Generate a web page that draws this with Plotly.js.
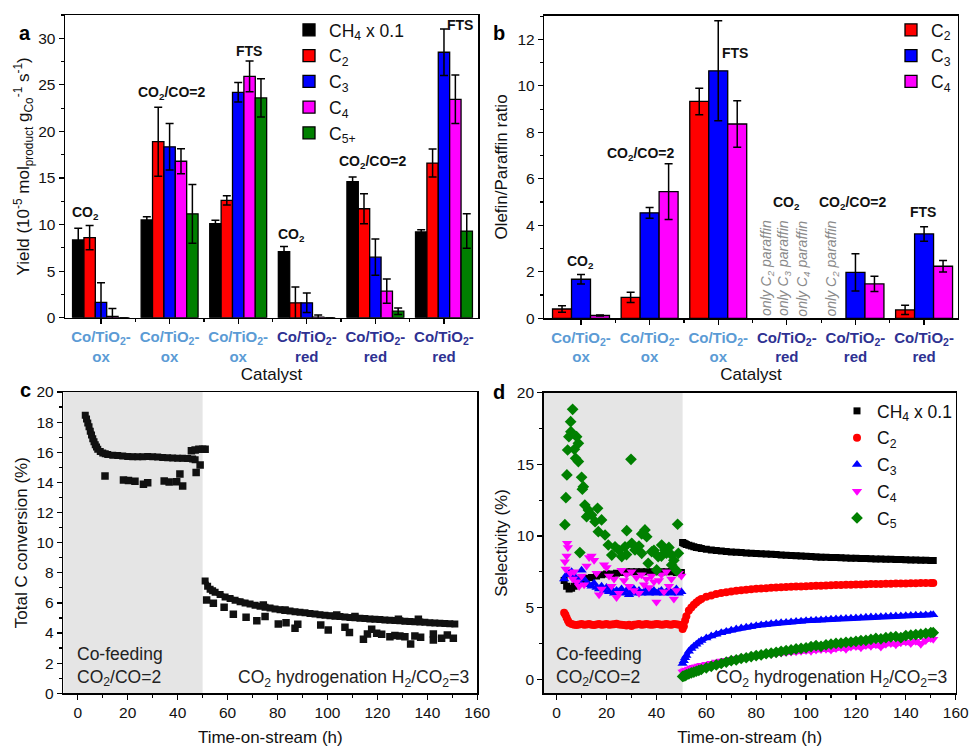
<!DOCTYPE html>
<html>
<head>
<meta charset="utf-8">
<script src="https://cdn.plot.ly/plotly-3.0.1.min.js"></script>
<style>html,body{margin:0;padding:0;background:#fff;}#chart{width:971px;height:750px;}</style>
</head>
<body>
<div id="chart"></div>
<script>
// ---------- Panel a / b : categories ----------
const catalysts = ['Co/TiO<sub>2</sub>-<br>ox','Co/TiO<sub>2</sub>-<br>ox','Co/TiO<sub>2</sub>-<br>ox','Co/TiO<sub>2</sub>-<br>red','Co/TiO<sub>2</sub>-<br>red','Co/TiO<sub>2</sub>-<br>red'];
const catalystType = ['ox','ox','ox','red','red','red'];
const catalystPos = [1,2,3,4,5,6];
const feedLabels = ['CO<sub>2</sub>','CO<sub>2</sub>/CO=2','FTS','CO<sub>2</sub>','CO<sub>2</sub>/CO=2','FTS'];

// ---------- Panel a : yield ----------
const yieldCH4 = [8.35, 10.5, 10.1, 7.1, 14.6, 9.2];
const yieldCH4Err = [1.25, 0.35, 0.35, 0.55, 0.5, 0.25];
const yieldC2 = [8.6, 18.9, 12.6, 1.6, 11.7, 16.6];
const yieldC2Err = [1.3, 3.7, 0.5, 1.7, 1.6, 1.5];
const yieldC3 = [1.65, 18.35, 24.2, 1.6, 6.5, 28.5];
const yieldC3Err = [2.1, 2.5, 1.05, 1.05, 1.95, 2.5];
const yieldC4 = [0.15, 16.8, 25.9, 0.05, 2.85, 23.45];
const yieldC4Err = [0.85, 1.35, 1.65, 0.25, 1.3, 2.6];
const yieldC5 = [0, 11.15, 23.6, 0, 0.7, 9.3];
const yieldC5Err = [0, 3.15, 2.05, 0, 0.35, 1.85];

// ---------- Panel b : olefin/paraffin ----------
const ratioC2 = [0.4, 0.9, 9.33, null, null, 0.36];
const ratioC2Err = [0.14, 0.22, 0.57, 0, 0, 0.2];
const ratioC3 = [1.68, 4.54, 10.65, null, 1.98, 3.63];
const ratioC3Err = [0.2, 0.23, 2.15, 0, 0.8, 0.31];
const ratioC4 = [0.12, 5.45, 8.36, null, 1.48, 2.24];
const ratioC4Err = [0.02, 1.2, 1.0, 0, 0.33, 0.25];
const paraffinNotes = ['only C<sub>2</sub> paraffin','only C<sub>3</sub> paraffin','only C<sub>4</sub> paraffin','only C<sub>2</sub> paraffin'];

// ---------- Panel c : total C conversion ----------
const cofeedEnd = 50;
const cTime1 = [3,3.5,4,4.5,5,5.5,6,6.5,7,7.5,8,9,10,11,12,14,16,18,20,22,24,26,28,30,32,34,36,38,40,42,44,46,47];
const cConv1 = [18.45,18.2,17.95,17.7,17.4,17.15,16.9,16.7,16.5,16.35,16.2,16.05,15.95,15.9,15.85,15.8,15.78,15.75,15.72,15.7,15.7,15.7,15.72,15.7,15.68,15.65,15.63,15.62,15.6,15.6,15.58,15.55,15.5];
const cTime2 = [51,52,53,54,55,57,59,61,63,65,67,69,71,73,75,77,79,81,83,85,87,89,91,93,95,97,99,101,103,105,107,109,111,113,115,117,119,121,123,125,127,129,131,133,135,137,139,141,143,145,147,149,151];
const cConv2 = [7.45,7.1,6.9,6.8,6.7,6.55,6.4,6.3,6.18,6.08,6.0,5.92,5.85,5.78,5.72,5.66,5.6,5.55,5.5,5.46,5.42,5.38,5.34,5.3,5.26,5.22,5.18,5.15,5.12,5.09,5.06,5.03,5.01,4.99,4.97,4.94,4.92,4.9,4.87,4.85,4.83,4.81,4.79,4.77,4.75,4.73,4.71,4.69,4.67,4.65,4.63,4.62,4.6];
const cTimeScatter = [10.9,18.3,20.3,22.9,26.3,28.0,34.6,36.6,39.6,40.9,42.0,47.4,49.0,45.5,47,48.5,50,51,
  51.6,54.3,58.6,62.3,67.4,71.7,75,80.3,83.4,87,88.1,97.3,100.3,107,108.8,114.4,116,117.7,119.7,121.7,125,127,129,131,133.3,135,137.3,142.4,142.4,145.7,148,150.4,
  74.3,83,103.7,111,128.4,136.4];
const cConvScatter = [14.42,14.16,14.12,14.07,13.87,13.98,14.09,14.03,14.05,14.56,13.76,14.65,15.15,16.1,16.15,16.2,16.2,16.2,
  6.19,5.97,5.71,5.24,5.04,4.82,5.09,4.6,4.69,4.31,4.58,4.54,4.2,4.38,4.03,3.58,3.94,4.25,3.98,3.92,3.76,3.83,3.81,3.76,3.27,3.81,3.72,3.94,3.54,3.65,3.87,3.65,
  5.86,5.53,5.2,5.09,4.91,4.91];

// ---------- Panel d : selectivity ----------
const dTimeCH4a = [3,4,5,6,7,8,9,10,12,14,16,18,20,22,24,26,28,30,32,34,36,38,40,42,44,46,48,50];
const dCH4a = [6.9,6.5,6.3,6.35,6.5,6.7,6.85,6.95,7.05,7.1,7.2,7.3,7.35,7.35,7.4,7.45,7.5,7.5,7.5,7.5,7.5,7.5,7.5,7.5,7.5,7.5,7.45,7.45];
const dTimeC2a = [3,3.5,4,4.5,5,6,7,8,9,10,11,12,13,14,15,16,17,18,19,20,21,22,23,24,25,26,27,28,29,30,31,32,33,34,35,36,37,38,39,40,41,42,43,44,45,46,47,48,49,50];
const dC2a = [4.65,4.5,4.3,4.1,3.95,3.85,3.8,3.78,3.82,3.85,3.8,3.82,3.85,3.8,3.78,3.82,3.85,3.8,3.83,3.86,3.8,3.82,3.84,3.88,3.82,3.8,3.78,3.75,3.8,3.72,3.8,3.83,3.85,3.8,3.82,3.85,3.83,3.8,3.82,3.86,3.84,3.8,3.83,3.85,3.82,3.8,3.86,3.84,3.8,3.78];
const dTimeC3a = [3,4,5,6,7,8,9,10,11,12,13,14,15,16,17,18,19,20,21,22,23,24,25,26,27,28,29,30,31,32,33,34,35,36,37,38,39,40,41,42,43,44,45,46,47,48,49,50];
const dC3a = [7.0,7.3,7.4,7.5,7.2,7.0,6.8,7.6,7.0,6.7,6.6,6.5,6.7,6.4,6.3,6.5,6.2,6.4,6.1,6.3,6.0,6.2,6.1,6.3,6.0,6.2,5.9,6.1,6.3,6.0,6.2,6.0,6.1,6.3,6.0,6.1,6.2,6.0,6.1,6.2,6.0,6.1,6.2,6.0,6.1,6.3,6.0,6.1];
const dTimeC4a = [3.3,3.6,4.0,4.2,4.5,5.5,6.5,7,8,9,10,11,12,13,14,15,16,17,18,19,20,21,22,23,24,25,26,27,28,29,30,31,32,33,34,35,36,37,38,39,40,41,42,43,44,45,46,47,48,49,50];
const dC4a = [8.2,7.7,8.6,9.5,9.2,7.4,7.0,7.5,6.8,6.5,7.2,6.6,7.9,8.5,8.6,8.3,7.4,5.9,6.3,8.0,7.8,7.2,6.5,7.0,5.7,6.0,7.6,6.9,7.3,6.5,7.5,6.2,7.1,6.0,7.3,6.6,7.0,6.4,7.2,6.8,5.4,6.9,7.3,6.1,7.5,6.5,7.0,5.6,6.2,7.4,7.2];
const dTimeC5a = [6.4,5.6,5.7,4.9,8.0,8.7,7.1,4.4,7.6,8.7,29.8,4.1,10.0,10.7,10.3,3.7,11.3,12.7,16.4,14.0,12.0,18.0,15.4,16.7,19.4,3.3,28.1,35.4,34.1,48.5,20.7,23.4,27.4,30.1,22.1,26.1,31.4,34.1,38.1,42.1,40.7,46.1,48.8,36.7,40.1,46.1,48.1,9.3,36.1,43.4,25,28,33,39,44,45,42,47];
const dC5a = [18.84,17.98,17.28,16.93,16.93,16.47,16.05,16.0,15.42,15.19,15.35,14.26,14.1,13.44,13.26,12.67,12.16,11.81,11.93,11.47,11.35,11.12,11.0,10.3,10.07,10.79,10.37,10.42,10.14,10.82,9.37,9.25,9.25,9.49,8.67,8.56,9.02,8.79,8.9,9.37,8.56,8.67,8.79,8.09,7.63,7.98,7.58,8.84,9.95,9.02,9.0,8.7,9.3,9.0,8.8,9.2,8.6,8.3];

const dTimeB = [50.5,51,51.5,52,53,54,55,56,57,58,60,62,64,66,68,70,72,74,76,78,80,82,84,86,88,90,92,94,96,98,100,102,104,106,108,110,112,114,116,118,120,122,124,126,128,130,132,134,136,138,140,142,144,146,148,150,151];
const dCH4b = [9.55,9.5,9.45,9.4,9.35,9.3,9.25,9.2,9.17,9.13,9.08,9.03,8.98,8.95,8.92,8.89,8.86,8.84,8.82,8.8,8.78,8.76,8.74,8.72,8.7,8.68,8.66,8.64,8.62,8.6,8.58,8.56,8.54,8.52,8.51,8.5,8.49,8.48,8.46,8.45,8.44,8.43,8.42,8.41,8.4,8.39,8.38,8.37,8.36,8.35,8.34,8.33,8.32,8.31,8.3,8.29,8.28];
const dC2b = [3.5,3.7,4.1,4.4,4.8,5.0,5.2,5.35,5.5,5.6,5.75,5.85,5.95,6.02,6.08,6.13,6.17,6.21,6.25,6.28,6.31,6.34,6.36,6.38,6.4,6.42,6.44,6.45,6.47,6.48,6.5,6.51,6.52,6.53,6.55,6.56,6.57,6.58,6.59,6.6,6.61,6.62,6.63,6.64,6.65,6.65,6.66,6.67,6.68,6.68,6.69,6.7,6.7,6.71,6.72,6.72,6.72];
const dC3b = [1.1,1.3,1.5,1.65,1.95,2.15,2.3,2.45,2.58,2.7,2.88,3.02,3.14,3.25,3.34,3.42,3.5,3.57,3.63,3.69,3.74,3.79,3.83,3.87,3.91,3.94,3.97,4.0,4.03,4.05,4.08,4.1,4.12,4.14,4.16,4.18,4.2,4.22,4.24,4.26,4.28,4.3,4.32,4.34,4.35,4.37,4.38,4.4,4.41,4.42,4.44,4.45,4.46,4.47,4.48,4.5,4.5];
const dC4b = [0.5,0.55,0.6,0.65,0.72,0.78,0.83,0.88,0.92,0.97,1.05,1.12,1.2,1.27,1.33,1.4,1.45,1.5,1.55,1.6,1.63,1.68,1.72,1.75,1.8,1.83,1.87,1.9,1.92,1.96,2.0,1.95,2.05,2.08,2.1,2.05,2.15,2.2,2.1,2.25,2.28,2.2,2.35,2.3,2.4,2.25,2.45,2.5,2.4,2.55,2.6,2.5,2.65,2.45,2.7,2.85,2.8];
const dC5b = [0.2,0.22,0.26,0.3,0.38,0.45,0.5,0.56,0.62,0.68,0.8,0.9,1.0,1.1,1.2,1.3,1.35,1.45,1.5,1.58,1.65,1.7,1.78,1.82,1.88,1.95,2.0,2.05,2.12,2.15,2.2,2.28,2.35,2.3,2.4,2.45,2.5,2.52,2.58,2.6,2.65,2.7,2.72,2.78,2.85,2.82,2.9,2.95,2.98,2.9,3.05,3.08,3.12,3.15,3.2,3.25,3.25];

// ---------- styles ----------
const FONT = 'Arial, "Liberation Sans", sans-serif';
const oxColor = '#5B9BD5', redColor = '#2E3192';
const colBlack = '#000000', colRed = '#FF0000', colBlue = '#0000FF', colMag = '#FF00FF', colGreen = '#008000';

const tickText = catalysts.map((c,i) => '<b><span style="color:' + (catalystType[i]==='ox'?oxColor:redColor) + '">' + c + '</span></b>');

function errBar(arr){ return {type:'data', array:arr, visible:true, color:'#000', thickness:1.5, width:4}; }
function barTrace(name, y, err, color, xa, ya, leg, grp){
  return {type:'bar', name:name, x:catalystPos, y:y, error_y:errBar(err), xaxis:xa, yaxis:ya, legend:leg, legendgroup:grp,
    marker:{color:color, line:{color:'#000', width:1.3}}};
}

const traces = [
  barTrace('CH<sub>4</sub> x 0.1', yieldCH4, yieldCH4Err, colBlack, 'x', 'y', 'legend', 'a1'),
  barTrace('C<sub>2</sub>', yieldC2, yieldC2Err, colRed, 'x', 'y', 'legend', 'a2'),
  barTrace('C<sub>3</sub>', yieldC3, yieldC3Err, colBlue, 'x', 'y', 'legend', 'a3'),
  barTrace('C<sub>4</sub>', yieldC4, yieldC4Err, colMag, 'x', 'y', 'legend', 'a4'),
  barTrace('C<sub>5+</sub>', yieldC5, yieldC5Err, colGreen, 'x', 'y', 'legend', 'a5'),
  barTrace('C<sub>2</sub>', ratioC2, ratioC2Err, colRed, 'x2', 'y2', 'legend2', 'b1'),
  barTrace('C<sub>3</sub>', ratioC3, ratioC3Err, colBlue, 'x2', 'y2', 'legend2', 'b2'),
  barTrace('C<sub>4</sub>', ratioC4, ratioC4Err, colMag, 'x2', 'y2', 'legend2', 'b3'),
  // panel c
  {type:'scatter', mode:'lines+markers', x:cTime1, y:cConv1, xaxis:'x3', yaxis:'y3', showlegend:false,
    line:{color:'#111', width:5}, marker:{symbol:'square', size:7, color:'#111'}},
  {type:'scatter', mode:'lines+markers', x:cTime2, y:cConv2, xaxis:'x3', yaxis:'y3', showlegend:false,
    line:{color:'#111', width:5}, marker:{symbol:'square', size:7, color:'#111'}},
  {type:'scatter', mode:'markers', x:cTimeScatter, y:cConvScatter, xaxis:'x3', yaxis:'y3', showlegend:false,
    marker:{symbol:'square', size:7.5, color:'#111'}},
];

const dSeries = [
  {name:'CH<sub>4</sub> x 0.1', t1:dTimeCH4a, v1:dCH4a, v2:dCH4b, color:'#000', symbol:'square', size:7},
  {name:'C<sub>2</sub>', t1:dTimeC2a, v1:dC2a, v2:dC2b, color:colRed, symbol:'circle', size:8},
  {name:'C<sub>3</sub>', t1:dTimeC3a, v1:dC3a, v2:dC3b, color:colBlue, symbol:'triangle-up', size:9},
  {name:'C<sub>4</sub>', t1:dTimeC4a, v1:dC4a, v2:dC4b, color:colMag, symbol:'triangle-down', size:9},
  {name:'C<sub>5</sub>', t1:dTimeC5a, v1:dC5a, v2:dC5b, color:colGreen, symbol:'diamond', size:9},
];
dSeries.forEach((s,i) => {
  traces.push({type:'scatter', mode:'markers', name:s.name, x:s.t1, y:s.v1, xaxis:'x4', yaxis:'y4', legend:'legend3', legendgroup:'d'+i,
    marker:{symbol:s.symbol, size:s.size, color:s.color}});
  traces.push({type:'scatter', mode:'lines+markers', name:s.name, x:dTimeB, y:s.v2, xaxis:'x4', yaxis:'y4', showlegend:false, legendgroup:'d'+i,
    line:{color:s.color, width:5}, marker:{symbol:s.symbol, size:s.size, color:s.color}});
});

const axisBase = {showline:true, linecolor:'#000', linewidth:1.5, mirror:true, ticks:'outside', ticklen:5, tickwidth:1.2,
  tickcolor:'#000', zeroline:false, showgrid:false, tickfont:{family:FONT, size:15.5, color:'#111'}};
function ax(extra){ return Object.assign({}, axisBase, extra); }
const titleFont = {family:FONT, size:17, color:'#111'};
const catTickFont = {family:FONT, size:15, color:'#111'};

const W = 971, H = 750;
function dx(a,b){ return [a/W, b/W]; }
function dy(top,bottom){ return [1-bottom/H, 1-top/H]; }

const annotations = [];
// panel letters
[['a',17,20],['b',499,20],['c',18,390],['d',499,392]].forEach(p => annotations.push({
  text:'<b>'+p[0]+'</b>', xref:'paper', yref:'paper', x:p[1]/W, y:1-p[2]/H, showarrow:false,
  font:{family:FONT, size:20, color:'#000'}}));
// panel a feed labels
const aLabelPos = [[0.77,11.25],[2.03,24.1],[3.16,28.6],[3.78,8.9],[4.96,16.7],[6.23,31.4]];
feedLabels.forEach((t,i) => annotations.push({text:'<b>'+t+'</b>', xref:'x', yref:'y', x:aLabelPos[i][0], y:aLabelPos[i][1],
  showarrow:false, font:{family:FONT, size:14, color:'#111'}}));
const bLabelPos = [[0.99,2.44],[1.88,7.07],[3.24,11.4],[4.0,4.95],[4.97,4.95],[5.99,4.56]];
feedLabels.forEach((t,i) => annotations.push({text:'<b>'+t+'</b>', xref:'x2', yref:'y2', x:bLabelPos[i][0], y:bLabelPos[i][1],
  showarrow:false, font:{family:FONT, size:14, color:'#111'}}));
const notePos = [3.72, 3.97, 4.24, 4.66];
paraffinNotes.forEach((t,i) => annotations.push({text:'<i>'+t+'</i>', xref:'x2', yref:'y2', x:notePos[i], y:2.15,
  textangle:-90, showarrow:false, font:{family:FONT, size:14, color:'#8a8a8a'}}));
// c / d phase texts
[[75],[554]].forEach(p => annotations.push({text:'Co-feeding<br>CO<sub>2</sub>/CO=2', xref:'paper', yref:'paper',
  x:p[0]/W, y:1-666/H, xanchor:'left', yanchor:'middle', align:'left', showarrow:false, font:{family:FONT, size:17.5, color:'#222'}}));
[[471],[949]].forEach(p => annotations.push({text:'CO<sub>2</sub> hydrogenation H<sub>2</sub>/CO<sub>2</sub>=3', xref:'paper', yref:'paper',
  x:p[0]/W, y:1-678/H, xanchor:'right', yanchor:'middle', showarrow:false, font:{family:FONT, size:17.5, color:'#222'}}));

const legFont = {family:FONT, size:17.5, color:'#111'};
const layout = {
  width:W, height:H, margin:{l:0,r:0,t:0,b:0}, paper_bgcolor:'#fff', plot_bgcolor:'rgba(0,0,0,0)',
  font:{family:FONT, color:'#111'}, barmode:'group', bargap:0.17, bargroupgap:0,
  xaxis: ax({domain:dx(65,478), range:[0.475,6.496], anchor:'y', tickvals:catalystPos, ticktext:tickText, tickfont:catTickFont,
    minor:{tickvals:[1.5,2.5,3.5,4.5,5.5], ticks:'outside', ticklen:3, tickcolor:'#000'},
    title:{text:'Catalyst', font:titleFont, standoff:2}}),
  yaxis: ax({domain:dy(15,317.7), range:[0,32.5], anchor:'x', dtick:5,
    minor:{dtick:2.5, ticks:'outside', ticklen:3, tickcolor:'#000'},
    title:{text:'Yield (10<sup>-5</sup> mol<sub>product</sub> g<sub>Co</sub><sup>-1</sup> s<sup>-1</sup>)', font:titleFont, standoff:4}}),
  xaxis2: ax({domain:dx(544.3,957.7), range:[0.465,6.49], anchor:'y2', tickvals:catalystPos, ticktext:tickText, tickfont:catTickFont,
    minor:{tickvals:[1.5,2.5,3.5,4.5,5.5], ticks:'outside', ticklen:3, tickcolor:'#000'},
    title:{text:'Catalyst', font:titleFont, standoff:2}}),
  yaxis2: ax({domain:dy(15.7,318.3), range:[0,13.02], anchor:'x2', dtick:2,
    minor:{dtick:1, ticks:'outside', ticklen:3, tickcolor:'#000'},
    title:{text:'Olefin/Paraffin ratio', font:titleFont, standoff:5}}),
  xaxis3: ax({domain:dx(63.3,477.3), range:[-5.8,160], anchor:'y3', dtick:20,
    minor:{dtick:10, ticks:'outside', ticklen:3, tickcolor:'#000'},
    title:{text:'Time-on-stream (h)', font:titleFont, standoff:10}}),
  yaxis3: ax({domain:dy(392,693.3), range:[0,20], anchor:'x3', dtick:2,
    minor:{dtick:1, ticks:'outside', ticklen:3, tickcolor:'#000'},
    title:{text:'Total C conversion (%)', font:titleFont, standoff:4}}),
  xaxis4: ax({domain:dx(543.7,955.7), range:[-5.2,160], anchor:'y4', dtick:20,
    minor:{dtick:10, ticks:'outside', ticklen:3, tickcolor:'#000'},
    title:{text:'Time-on-stream (h)', font:titleFont, standoff:10}}),
  yaxis4: ax({domain:dy(392.7,693.3), range:[-0.98,20], anchor:'x4', dtick:5,
    minor:{dtick:2.5, ticks:'outside', ticklen:3, tickcolor:'#000'},
    title:{text:'Selectivity (%)', font:titleFont, standoff:5}}),
  legend: {x:289/W, y:1-12/H, xanchor:'left', yanchor:'top', bgcolor:'rgba(0,0,0,0)', font:legFont, tracegroupgap:0},
  legend2: {x:891/W, y:1-12/H, xanchor:'left', yanchor:'top', bgcolor:'rgba(0,0,0,0)', font:legFont, tracegroupgap:0},
  legend3: {x:837/W, y:1-393/H, xanchor:'left', yanchor:'top', bgcolor:'rgba(0,0,0,0)', font:legFont, tracegroupgap:1},
  shapes: [
    {type:'rect', xref:'x3', yref:'y3 domain', x0:-5.8, x1:cofeedEnd, y0:0, y1:1, fillcolor:'#e5e5e5', line:{width:0}, layer:'below'},
    {type:'rect', xref:'x4', yref:'y4 domain', x0:-5.2, x1:cofeedEnd + 0.5, y0:0, y1:1, fillcolor:'#e5e5e5', line:{width:0}, layer:'below'}
  ],
  annotations: annotations,
  showlegend: true
};

Plotly.newPlot('chart', traces, layout, {displayModeBar:false, staticPlot:true});
</script>
</body>
</html>
